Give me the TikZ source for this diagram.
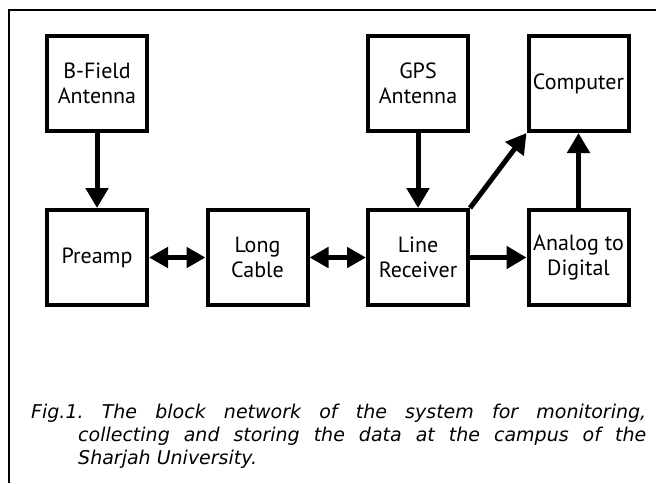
\documentclass[tikz,border=0pt]{standalone}
\usepackage{fontspec}
\newfontfamily\boxfont{PT Sans}
\newfontfamily\capfont{DejaVu Sans}
\usetikzlibrary{arrows.meta}

\begin{document}
\frenchspacing
\begin{tikzpicture}[x=1pt, y=-1pt, node distance={160.5pt},
  main/.style = {draw, line width=4pt, minimum width=100pt, minimum height=95pt, align=center, font=\boxfont\fontsize{22}{25}\selectfont},
  link/.style = {line width=5pt, -{Triangle[length=20pt, width=22pt]}},
  both/.style = {line width=5pt, {Triangle[length=19pt, width=20pt]}-{Triangle[length=19pt, width=20pt]}}]
\useasboundingbox (0,0) rectangle (656,483);
\draw[line width=2.5pt] (9,483) -- (9,10) -- (656,10);

\node[main] (1) at (97,257.5) {Preamp};
\node[main] (2) [right of=1] {Long\\Cable};
\node[main] (3) [right of=2] {Line\\Receiver};
\node[main] (4) [right of=3] {Analog to\\Digital};

\node[main] (5) [node distance=174pt, above of=1] {B-Field\\Antenna};
\node[main] (6) [node distance=174pt, above of=3] {GPS\\Antenna};
\node[main] (7) [node distance=174pt, above of=4] {Computer};

\node[anchor=north west, inner sep=0pt, text width=615pt, align=justify, font=\capfont\itshape\fontsize{19}{23}\selectfont] (8) at (31,403.5) {\frenchspacing\hangindent=47pt\hangafter=1 Fig.1. The block network of the system for monitoring,\linebreak collecting and storing the data at the campus of the\linebreak Sharjah University.\par};

\draw[link] (5) -- (1);
\draw[both] (1) -- (2);
\draw[both] (2) -- (3);
\draw[link] (3) -- (4);

\draw[link] (6) -- (3);
\draw[link] (3.north east) -- (7.south west);
\draw[link] (4) -- (7);

\end{tikzpicture}
\end{document}
